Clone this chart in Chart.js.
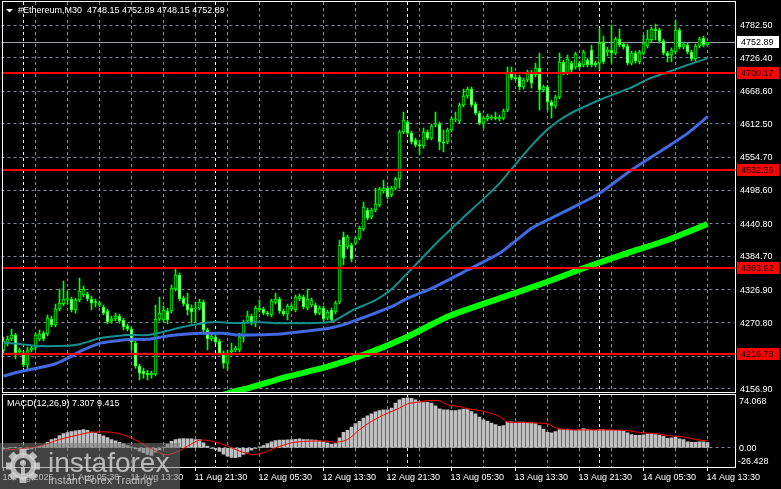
<!DOCTYPE html>
<html>
<head>
<meta charset="utf-8">
<script src="https://cdn.jsdelivr.net/npm/chart.js@4.4.1/dist/chart.umd.min.js"></script>
<style>
  html, body { margin: 0; padding: 0; background: #000; }
  #wrap { position: relative; width: 781px; height: 489px; background: #000; overflow: hidden; }
  canvas { position: absolute; left: 0; }
  #mainChart { top: 0; }
  #macdChart { top: 393px; }
</style>
</head>
<body>
<div id="wrap">
  <canvas id="mainChart" width="781" height="393"></canvas>
  <canvas id="macdChart" width="781" height="96"></canvas>
</div>
<script>
// ---- data (M30 bars, 10 Aug 21:30 .. 14 Aug 13:30) ----
const opens = [4223.5,4233.8,4242.4,4249.3,4220.1,4218.3,4197.7,4223.5,4227.0,4242.4,
  4252.7,4251.0,4276.8,4266.5,4294.0,4302.6,4310.4,4311.2,4292.3,4309.5,
  4318.1,4319.8,4311.2,4306.1,4300.9,4297.5,4290.6,4273.4,4276.8,4282.0,
  4275.1,4264.8,4259.6,4235.5,4196.0,4187.4,4183.9,4180.5,4182.2,4276.8,
  4275.1,4290.6,4290.6,4328.4,4352.5,4313.0,4302.6,4295.7,4294.0,4295.7,
  4306.1,4257.9,4242.4,4245.9,4239.0,4218.3,4201.1,4220.1,4223.5,4223.5,
  4245.9,4273.4,4282.0,4271.7,4292.3,4294.0,4287.1,4283.7,4305.2,4311.2,
  4290.6,4285.4,4294.0,4292.3,4311.2,4314.7,4295.7,4300.9,4300.9,4287.1,
  4295.7,4278.5,4292.3,4288.9,4306.1,4417.9,4400.7,4404.1,4407.5,4416.1,
  4431.6,4464.3,4452.3,4464.3,4472.9,4497.0,4502.1,4490.1,4502.1,4517.6,
  4598.5,4615.7,4596.7,4584.7,4576.1,4574.4,4598.5,4588.1,4610.5,4612.2,
  4581.3,4581.3,4601.9,4619.1,4617.4,4644.9,4660.4,4672.4,4646.6,4631.1,
  4613.9,4620.8,4622.5,4621.7,4620.8,4622.5,4636.3,4701.7,4692.2,4693.1,
  4675.9,4687.9,4701.7,4696.5,4708.5,4670.7,4675.9,4650.1,4643.2,4658.7,
  4718.9,4699.9,4717.1,4710.3,4717.1,4713.7,4722.3,4739.5,4717.1,4717.1,
  4753.3,4736.1,4739.5,4734.3,4758.4,4749.8,4746.4,4717.1,4734.3,4718.9,
  4734.3,4746.4,4756.7,4773.9,4773.9,4755.0,4734.3,4730.9,4736.1,4773.9,
  4744.7,4748.1,4736.1,4724.0,4746.4,4760.1,4748.15];
const highs = [4245.9,4247.6,4259.6,4252.7,4227.0,4221.8,4228.7,4230.4,4252.7,4257.9,
  4256.2,4283.7,4282.0,4302.6,4328.4,4342.2,4325.0,4314.7,4313.0,4347.3,
  4333.6,4323.3,4316.4,4311.2,4307.8,4300.9,4294.0,4282.0,4287.1,4285.4,
  4278.5,4268.2,4263.1,4239.0,4199.4,4192.5,4189.1,4187.4,4300.9,4314.7,
  4299.2,4295.7,4335.3,4362.8,4355.9,4316.4,4321.5,4300.9,4306.1,4311.2,
  4309.5,4261.3,4252.7,4251.0,4242.4,4221.8,4223.5,4235.5,4230.4,4252.7,
  4275.1,4290.6,4285.4,4299.2,4309.5,4297.5,4290.6,4311.2,4321.5,4314.7,
  4294.0,4302.6,4302.6,4318.1,4319.8,4318.1,4328.4,4313.0,4304.3,4299.2,
  4299.2,4292.3,4295.7,4307.8,4412.7,4426.5,4421.3,4407.5,4419.6,4436.8,
  4478.1,4467.7,4467.7,4502.1,4503.9,4515.9,4505.6,4505.6,4521.1,4601.9,
  4632.9,4619.1,4600.2,4588.1,4584.7,4605.3,4601.9,4612.2,4632.9,4615.7,
  4601.9,4605.3,4624.3,4632.9,4648.3,4672.4,4675.9,4675.9,4650.1,4634.6,
  4626.0,4629.4,4627.7,4632.9,4627.7,4638.0,4710.3,4710.3,4696.5,4696.5,
  4691.3,4705.1,4705.1,4717.1,4734.3,4679.3,4679.3,4653.5,4662.1,4734.3,
  4722.3,4730.9,4720.6,4736.1,4720.6,4739.5,4725.7,4748.1,4720.6,4777.3,
  4763.6,4744.7,4782.5,4761.9,4775.6,4753.3,4749.8,4737.8,4737.8,4739.5,
  4765.3,4773.9,4779.1,4784.2,4777.3,4758.4,4737.8,4743.0,4791.1,4777.3,
  4753.3,4751.5,4739.5,4749.8,4761.9,4763.6,4752.89];
const lows = [4218.3,4230.4,4239.0,4208.0,4216.6,4194.3,4190.8,4220.1,4223.5,4239.0,
  4239.0,4247.6,4263.1,4263.1,4290.6,4299.2,4302.6,4288.9,4287.1,4306.1,
  4314.7,4307.8,4292.3,4297.5,4297.5,4283.7,4268.2,4269.9,4273.4,4269.9,
  4257.9,4256.2,4223.5,4192.5,4171.9,4175.3,4171.9,4175.3,4178.8,4273.4,
  4271.7,4268.2,4287.1,4325.0,4307.8,4299.2,4283.7,4269.9,4271.7,4292.3,
  4254.5,4223.5,4239.0,4233.8,4214.9,4192.5,4189.1,4214.9,4220.1,4220.1,
  4237.3,4269.9,4266.5,4263.1,4288.9,4283.7,4282.0,4280.3,4302.6,4287.1,
  4282.0,4275.1,4290.6,4288.9,4307.8,4294.0,4292.3,4297.5,4283.7,4283.7,
  4273.4,4275.1,4271.7,4285.4,4302.6,4369.7,4397.2,4374.9,4404.1,4412.7,
  4428.2,4447.1,4448.8,4460.9,4469.5,4493.5,4483.2,4486.7,4498.7,4502.1,
  4595.0,4593.3,4577.8,4572.7,4558.9,4570.9,4584.7,4584.7,4607.1,4567.5,
  4564.1,4577.8,4598.5,4615.7,4613.9,4641.5,4656.9,4641.5,4627.7,4610.5,
  4605.3,4617.4,4619.1,4619.1,4617.4,4619.1,4632.9,4687.9,4686.2,4670.7,
  4672.4,4684.5,4674.1,4693.1,4636.3,4667.3,4636.3,4622.5,4639.7,4655.2,
  4696.5,4696.5,4701.7,4706.8,4706.8,4710.3,4710.3,4710.3,4710.3,4705.1,
  4715.4,4729.2,4717.1,4730.9,4744.7,4741.2,4713.7,4713.7,4717.1,4715.4,
  4730.9,4743.0,4753.3,4756.7,4751.5,4730.9,4718.9,4718.9,4732.6,4741.2,
  4741.2,4732.6,4720.6,4720.6,4743.0,4744.7,4748.15];
const closes = [4239.0,4242.4,4249.3,4218.3,4223.5,4197.7,4223.5,4227.0,4249.3,4251.0,
  4242.4,4278.5,4266.5,4294.0,4304.3,4311.2,4311.2,4292.3,4309.5,4325.0,
  4328.4,4311.2,4304.3,4305.2,4304.3,4287.1,4271.7,4276.8,4282.0,4273.4,
  4263.1,4259.6,4237.3,4196.0,4183.9,4182.2,4180.5,4183.9,4276.8,4287.1,
  4292.3,4275.1,4330.1,4352.5,4311.2,4302.6,4292.3,4288.9,4295.7,4306.1,
  4257.9,4242.4,4247.6,4237.3,4218.3,4201.1,4218.3,4223.5,4227.0,4245.9,
  4269.9,4282.0,4269.9,4295.7,4295.7,4287.1,4285.4,4307.8,4311.2,4290.6,
  4285.4,4299.2,4299.2,4314.7,4316.4,4297.5,4311.2,4309.5,4287.1,4295.7,
  4276.8,4288.9,4275.1,4304.3,4404.1,4381.7,4417.9,4380.0,4416.1,4433.3,
  4469.5,4450.5,4464.3,4474.6,4500.4,4502.1,4486.7,4502.1,4517.6,4598.5,
  4619.1,4596.7,4581.3,4576.1,4575.2,4598.5,4588.1,4608.8,4612.2,4581.3,
  4579.5,4601.9,4620.8,4620.0,4644.9,4660.4,4672.4,4644.9,4631.1,4613.9,
  4622.5,4626.0,4624.3,4624.3,4623.4,4634.6,4699.9,4691.3,4689.6,4675.9,
  4687.9,4701.7,4682.7,4708.5,4670.7,4675.9,4650.1,4643.2,4658.7,4718.9,
  4699.9,4724.0,4705.1,4732.6,4710.3,4736.1,4713.7,4713.7,4713.7,4751.5,
  4718.9,4739.5,4734.3,4758.4,4748.1,4744.7,4717.1,4734.3,4720.6,4736.1,
  4751.5,4758.4,4775.6,4773.0,4755.0,4734.3,4729.2,4739.5,4773.9,4744.7,
  4749.8,4736.1,4724.0,4746.4,4758.4,4748.1,4752.89];

// moving averages, sampled as [bar index, price]
const maShort = [[0,4236.1],[4,4233.8],[9,4230.3],[16,4230.9],[19,4233.3],[24,4243.6],[31,4249.3],[36,4249.3],
  [41,4256.7],[44,4261.9],[49,4268.7],[53,4271.7],[57,4270.0],[64,4271.1],[69,4269.4],[82,4272.2],[87,4291.0],
  [93,4309.5],[97,4327.9],[103,4370.0],[109,4412.7],[115,4452.0],[120,4483.5],[124,4510.2],[127,4534.8],
  [132,4575.0],[136,4603.0],[141,4627.7],[149,4653.5],[157,4675.3],[161,4689.1],[166,4701.2],[171,4713.7],[176,4725.2]];
const maMid = [[0,4178.8],[4,4186.2],[7,4190.3],[12,4197.7],[16,4209.2],[19,4220.6],[24,4235.0],[28,4239.0],
  [32,4241.9],[36,4241.9],[41,4247.6],[46,4251.0],[49,4252.2],[55,4252.2],[58,4249.5],[68,4250.5],[76,4256.2],
  [82,4261.9],[86,4269.4],[97,4298.0],[101,4312.4],[107,4329.6],[116,4361.1],[124,4389.8],[132,4432.8],
  [136,4447.1],[146,4481.5],[149,4493.0],[157,4533.1],[166,4573.2],[171,4596.2],[176,4624.8]];
const maLong = [[52,4140.0],[58,4153.0],[61,4157.6],[71,4177.6],[81,4194.8],[91,4217.8],[101,4246.4],
  [111,4280.8],[124,4312.4],[136,4341.0],[146,4366.8],[157,4392.6],[166,4412.7],[176,4440.2]];

const levels = [4700.17, 4532.36, 4363.92, 4216.78];
const lastPrice = 4752.89;
const yTicks = [4782.5, 4726.4, 4668.6, 4612.5, 4554.7, 4498.6, 4440.8, 4384.7, 4326.9, 4270.8, 4213.0, 4156.9];

const xTickIdx = [0, 16, 32, 48, 64, 80, 96, 112, 128, 144, 160, 176];
const xTickLabels = ['10 Aug 2025', '11 Aug 05:30', '11 Aug 13:30', '11 Aug 21:30', '12 Aug 05:30', '12 Aug 13:30',
  '12 Aug 21:30', '13 Aug 05:30', '13 Aug 13:30', '13 Aug 21:30', '14 Aug 05:30', '14 Aug 13:30'];
const gridIdx = [8,16,24,32,40,48,56,64,72,80,88,96,104,112,120,128,136,144,152,160,168,176];
const daySepIdx = [5, 53, 101, 149];

const macdHist = [-1.5,-1.0,0.5,0.8,-0.5,-2.0,-2.5,-1.5,0.5,2.0,
  3.5,7.7,11.4,12.7,16.8,19.6,20.9,22.3,23.2,24.1,
  25.0,24.1,21.8,20.5,18.6,16.4,14.1,11.4,9.5,7.7,
  5.5,3.2,1.4,-1.4,-4.5,-6.8,-9.0,-10.5,-6.0,-3.0,
  1.0,5.0,9.0,11.4,12.3,12.7,12.3,12.3,11.4,11.4,
  6.8,2.3,-0.5,-2.3,-5.0,-8.6,-11.4,-13.2,-13.6,-12.7,
  -9.1,-5.9,-3.2,-0.9,1.4,3.2,5.9,8.2,10.0,10.5,
  10.5,10.9,11.4,11.8,12.3,11.4,11.4,10.9,10.5,9.5,
  8.2,6.8,5.0,5.9,13.6,21.4,24.1,28.6,33.2,36.4,
  40.9,44.1,46.8,49.6,51.4,52.3,52.3,54.6,61.4,65.9,
  68.2,68.7,68.2,65.9,63.7,62.3,62.7,61.4,57.7,53.7,
  52.3,52.3,51.4,51.4,52.3,53.2,53.2,50.0,46.8,42.3,
  38.6,36.4,34.1,31.8,29.6,30.5,35.5,35.9,35.5,35.5,
  35.5,35.0,34.1,33.2,30.5,25.9,21.4,20.5,22.3,25.0,
  25.0,25.9,24.1,23.6,24.6,26.4,25.0,24.1,24.1,25.0,
  25.0,24.1,24.1,24.1,24.1,22.7,20.5,18.2,17.3,17.3,
  17.7,19.1,19.6,18.2,17.3,15.9,13.2,13.6,14.6,12.3,
  11.4,8.2,7.7,7.7,8.2,8.2,7.307];
const macdSignal = [[0,-3.2],[4,-1.4],[9,2.3],[14,11.4],[19,18.2],[22,21.4],[27,21.4],[31,15.9],[35,4.5],
  [39,-7.0],[41,-9.5],[44,-4.0],[46,2.3],[49,10.5],[52,9.1],[56,2.3],[59,-4.5],[62,-9.1],[65,-6.8],[68,0],
  [72,6.8],[76,9.1],[81,9.1],[83,7.7],[86,11.4],[89,25.0],[92,36.4],[96,47.7],[99,54.6],[101,60.5],[104,63.2],
  [106,65.0],[109,64.6],[111,59.1],[114,56.8],[116,53.7],[119,51.4],[121,48.7],[124,43.2],[126,35.5],[130,35.0],
  [133,34.1],[136,33.2],[138,27.3],[141,25.0],[146,24.6],[155,24.1],[160,20.5],[163,19.6],[166,16.8],[170,15.0],
  [173,11.4],[176,9.415]];
const macdMax = 74.068, macdMin = -26.428;

// ---- shared look ----
const FONT = '9px "Liberation Sans"';
const GRID = '#778899';
Chart.defaults.font.family = '"Liberation Sans"';
Chart.defaults.font.size = 9;

function xScale(height) {
  return {
    type: 'linear', min: -0.5, max: 182.5, offset: false,
    afterBuildTicks: s => { s.ticks = gridIdx.concat(daySepIdx).map(v => ({ value: v })); },
    afterFit: s => { s.height = height; },
    ticks: { display: false },
    grid: { color: c => daySepIdx.includes(c.tick && c.tick.value) ? '#ffffff' : GRID, drawTicks: false, offset: false },
    border: { display: false, dash: [3, 3] }
  };
}

const pts = arr => arr.map(p => ({ x: p[0], y: p[1] }));

// ---- main price chart ----
const mainDecor = {
  id: 'mainDecor',
  beforeDatasetsDraw(chart) {
    const { ctx, chartArea: a, scales: { y } } = chart;
    const py = Math.round(y.getPixelForValue(lastPrice)) + 0.5;
    ctx.save();
    ctx.strokeStyle = '#9aa2aa';
    ctx.lineWidth = 1;
    ctx.beginPath(); ctx.moveTo(a.left, py); ctx.lineTo(736, py); ctx.stroke();
    ctx.restore();
  },
  afterDatasetsDraw(chart) {
    const { ctx, chartArea: a, scales: { y } } = chart;
    ctx.save();
    ctx.fillStyle = '#ff0000';
    levels.forEach(v => {
      const py = Math.round(y.getPixelForValue(v));
      ctx.fillRect(a.left, py - 1, 736 - a.left, 2);
    });
    ctx.restore();
  },
  afterDraw(chart) {
    const { ctx, scales: { y } } = chart;
    ctx.save();
    ctx.strokeStyle = '#ffffff';
    ctx.lineWidth = 1;
    ctx.strokeRect(2.5, 1.5, 733, 391);

    ctx.font = FONT;
    ctx.textBaseline = 'middle';
    ctx.textAlign = 'left';
    ctx.fillStyle = '#ffffff';
    yTicks.forEach(v => ctx.fillText(v.toFixed(2), 740, Math.round(y.getPixelForValue(v)) + 0.5));

    levels.forEach(v => {
      const py = Math.round(y.getPixelForValue(v));
      ctx.fillStyle = '#ff0000';
      ctx.fillRect(737, py - 6, 42, 12);
      ctx.fillStyle = '#000000';
      ctx.fillText(v.toFixed(2), 741, py + 0.5);
    });
    const pp = Math.round(y.getPixelForValue(lastPrice));
    ctx.fillStyle = '#ffffff';
    ctx.fillRect(737, pp - 6, 42, 12);
    ctx.fillStyle = '#000000';
    ctx.fillText(lastPrice.toFixed(2), 741, pp + 0.5);

    // title
    ctx.fillStyle = '#ffffff';
    ctx.beginPath(); ctx.moveTo(6, 9); ctx.lineTo(13, 9); ctx.lineTo(9.5, 12.5); ctx.closePath(); ctx.fill();
    ctx.fillText('#Ethereum,M30  ' + [opens[176], highs[176], lows[176], closes[176]].map(v => v.toFixed(2)).join(' '), 18, 10.5);
    ctx.restore();
  }
};

new Chart(document.getElementById('mainChart'), {
  type: 'bar',
  data: {
    datasets: [
      { type: 'line', data: pts(maLong), borderColor: '#00ff00', borderWidth: 6, pointRadius: 0, tension: 0.2 },
      { type: 'line', data: pts(maMid), borderColor: '#4169e1', borderWidth: 3, pointRadius: 0, tension: 0.2 },
      { type: 'line', data: pts(maShort), borderColor: '#11908f', borderWidth: 2, pointRadius: 0, tension: 0.2 },
      {
        data: opens.map((o, i) => ({ x: i, y: [o, closes[i]] })),
        backgroundColor: opens.map((o, i) => closes[i] >= o ? '#000000' : '#ffffff'),
        borderColor: '#00ff00', borderWidth: 1, borderSkipped: false,
        barThickness: 3, minBarLength: 1, grouped: false
      },
      {
        data: lows.map((l, i) => ({ x: i, y: [l, highs[i]] })),
        backgroundColor: '#00ff00', barThickness: 1, grouped: false
      }
    ]
  },
  options: {
    responsive: false,
    animation: false,
    devicePixelRatio: 1,
    layout: { padding: { left: 1.5, top: 2, right: 0, bottom: 1 } },
    plugins: { legend: { display: false }, tooltip: { enabled: false } },
    scales: {
      x: xScale(0),
      y: {
        position: 'right', min: 4151.3, max: 4822.1,
        afterBuildTicks: s => { s.ticks = yTicks.map(v => ({ value: v })); },
        afterFit: s => { s.width = 47.5; },
        ticks: { display: false },
        grid: { color: GRID, drawTicks: false },
        border: { display: false, dash: [3, 3] }
      }
    }
  },
  plugins: [mainDecor]
});

// ---- MACD panel ----
const macdDecor = {
  id: 'macdDecor',
  afterDraw(chart) {
    const { ctx, chartArea: a, scales: { x } } = chart;
    ctx.save();
    ctx.strokeStyle = '#ffffff';
    ctx.lineWidth = 1;
    ctx.strokeRect(2.5, 1.5, 733, 73);

    ctx.font = FONT;
    ctx.textBaseline = 'middle';
    ctx.textAlign = 'left';
    ctx.fillStyle = '#ffffff';
    ctx.fillText('MACD(12,26,9) 7.307 9.415', 7, 10.5);
    ctx.fillText(macdMax.toFixed(3), 739, a.top + 7.5);
    ctx.fillText('0.00', 739, Math.round(chart.scales.y.getPixelForValue(0)) + 0.5);
    ctx.fillText(macdMin.toFixed(3), 738, a.bottom - 5.5);

    xTickIdx.forEach((idx, k) => {
      const px = Math.round(x.getPixelForValue(idx) - 0.5) + 0.5;
      ctx.beginPath(); ctx.moveTo(px, 75); ctx.lineTo(px, 78); ctx.stroke();
      ctx.fillText(xTickLabels[k], px - 1, 84.5);
    });

    // watermark
    ctx.fillStyle = 'rgba(120,120,120,0.55)';
    ctx.fillRect(0, 50, 180, 46);
    ctx.fillStyle = 'rgba(215,215,215,0.8)';
    ctx.save();
    ctx.translate(23, 73);
    for (let k = 0; k < 8; k++) {
      ctx.save(); ctx.rotate(k * Math.PI / 4); ctx.fillRect(-3.5, -17, 7, 6); ctx.restore();
    }
    ctx.beginPath(); ctx.arc(0, 0, 13, 0, 2 * Math.PI); ctx.arc(0, 0, 8, 0, 2 * Math.PI, true); ctx.fill();
    ctx.beginPath(); ctx.arc(0, -3, 3, 0, 2 * Math.PI); ctx.fill();
    ctx.fillRect(-2, 1, 4, 8);
    ctx.restore();
    ctx.textBaseline = 'alphabetic';
    ctx.font = '28px "Liberation Sans"';
    ctx.fillText('instaforex', 48, 79);
    ctx.font = '11px "Liberation Sans"';
    ctx.fillText('Instant Forex Trading', 48, 91);
    ctx.restore();
  }
};

new Chart(document.getElementById('macdChart'), {
  type: 'bar',
  data: {
    datasets: [
      { type: 'line', data: pts(macdSignal), borderColor: '#ff0000', borderWidth: 1, pointRadius: 0, tension: 0.3 },
      { data: macdHist.map((v, i) => ({ x: i, y: v })), backgroundColor: '#c0c0c0', barThickness: 3, grouped: false }
    ]
  },
  options: {
    responsive: false,
    animation: false,
    devicePixelRatio: 1,
    layout: { padding: { left: 1.5, top: 1, right: 0, bottom: 0 } },
    plugins: { legend: { display: false }, tooltip: { enabled: false } },
    scales: {
      x: xScale(22),
      y: {
        position: 'right', min: macdMin, max: macdMax,
        afterBuildTicks: s => { s.ticks = [{ value: 0 }]; },
        afterFit: s => { s.width = 47.5; },
        ticks: { display: false },
        grid: { color: GRID, drawTicks: false },
        border: { display: false, dash: [3, 3] }
      }
    }
  },
  plugins: [macdDecor]
});
</script>
</body>
</html>
